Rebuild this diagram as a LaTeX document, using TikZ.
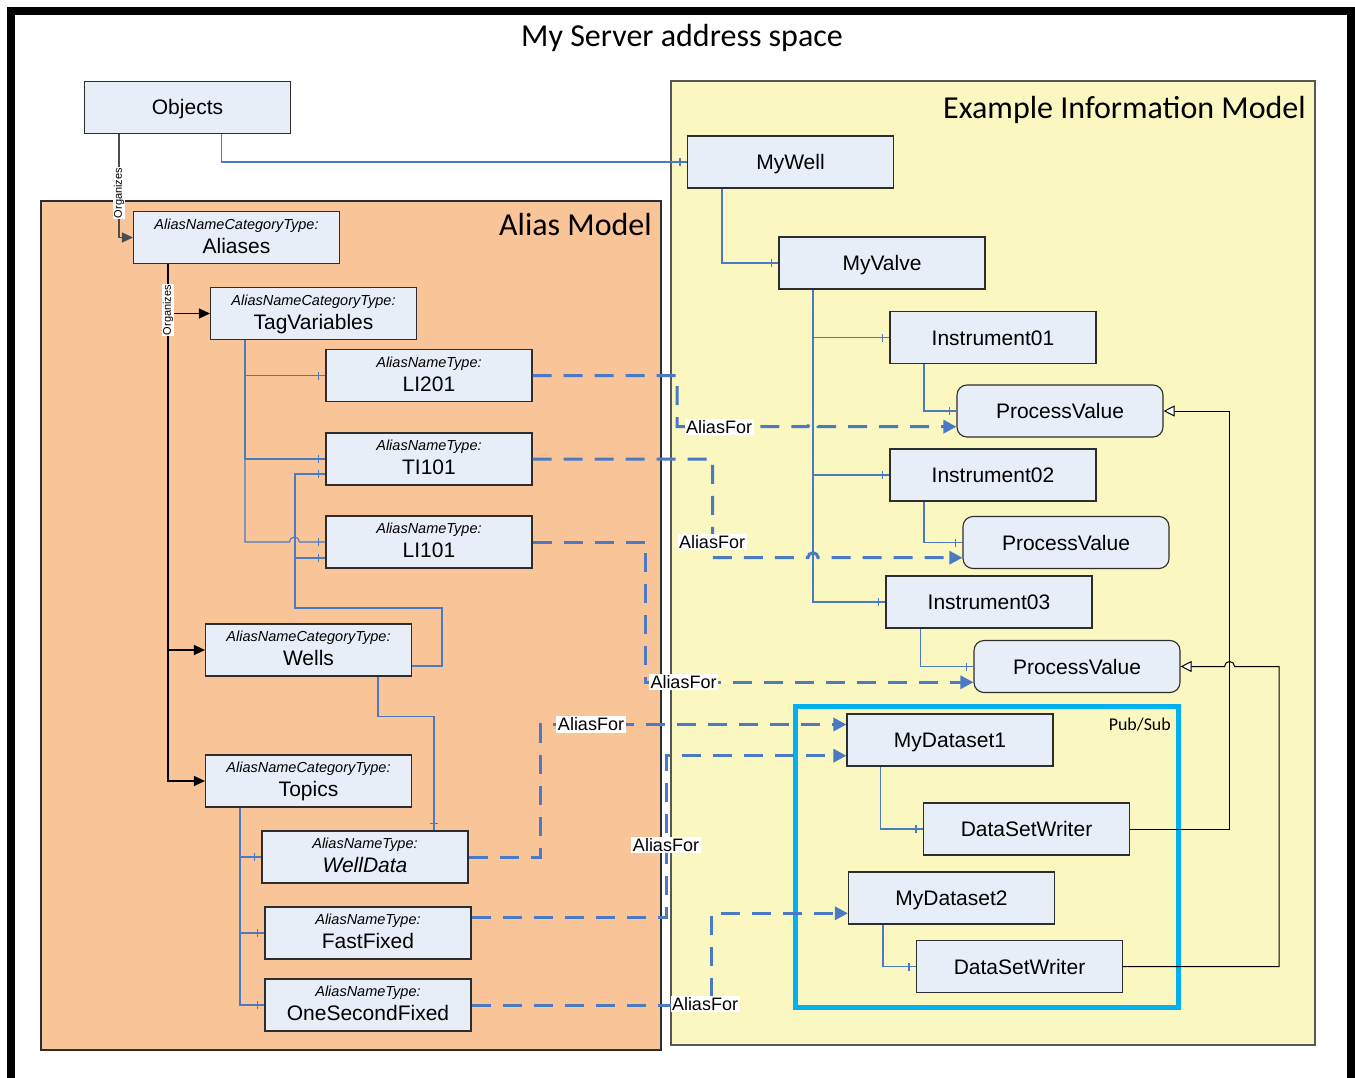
\documentclass[tikz,border=0pt]{standalone}
\usepackage{fontspec}
\setmainfont{Liberation Sans}
\newfontfamily\calib{Carlito}
\usetikzlibrary{arrows.meta,calc,decorations.markings}
\definecolor{boxfill}{RGB}{232,238,248}
\definecolor{boxline}{RGB}{45,45,45}
\definecolor{aliasfill}{RGB}{248,196,152}
\definecolor{modelfill}{RGB}{250,248,192}
\definecolor{lnblue}{RGB}{74,122,196}
\definecolor{pubsub}{RGB}{0,176,240}
\newcommand{\twobox}[5]{%
  \node[box] (#1) at (#2,#3) {};
  \node[typetxt] (#1t) at ($(#1.center)+(0,-8.2)$) {#4};
  \node[nametxt] (#1n) at ($(#1.center)+(0,15.7)$) {#5};}
\begin{document}
\begin{tikzpicture}[x=1pt,y=-1pt,
  box/.style={draw=boxline, fill=boxfill, line width=1.1pt, minimum width=206pt, minimum height=52pt, inner sep=0pt, text height=15pt, text depth=0pt, font=\fontsize{21}{25}\selectfont},
  pvbox/.style={box, rounded corners=10pt},
  typetxt/.style={anchor=base, inner sep=0pt, font=\fontsize{14.5}{17}\selectfont\itshape},
  nametxt/.style={anchor=base, inner sep=0pt, font=\fontsize{21}{25}\selectfont},
  conn/.style={draw=lnblue, line width=1.1pt},
  endtick/.style={postaction={decorate, decoration={markings, mark=at position -7pt with {\draw[lnblue, line width=1.1pt] (0pt,-4pt) -- (0pt,4pt);}}}},
  org/.style={draw=black, line width=1.2pt, -{Triangle[length=11pt,width=10pt]}},
  orglbl/.style={fill=white, inner sep=1pt, rotate=90, font=\fontsize{11}{12}\selectfont},
  alias/.style={draw=lnblue, line width=3pt, dash pattern=on 19pt off 12pt, -{Triangle[length=13pt,width=13pt]}},
  aliaslbl/.style={fill=white, inner sep=1.5pt, font=\fontsize{18}{20}\selectfont},
  inh/.style={draw=black, line width=1pt, -{Triangle[length=11pt,width=11pt,fill=white]}},
  ttl/.style={inner sep=0pt, font=\calib\fontsize{32}{36}\selectfont}
]
\useasboundingbox (0,0) rectangle (1355,1078);
\clip (0,0) rectangle (1355,1078);
\fill[white] (0,0) rectangle (1355,1078);
% frame
\draw[line width=8pt, line join=miter] (11,1100) -- (11,11) -- (1351,11) -- (1351,1100);
\node[ttl, anchor=base] (title) at (682,47) {My Server address space};
% containers
\draw[fill=aliasfill, draw=boxline, line width=1.2pt] (41,201) rectangle (661,1050);
\draw[fill=modelfill, draw=boxline!80, line width=1.2pt] (671,81) rectangle (1315,1045);
\node[ttl, anchor=base east] (aliastitle) at (652,236) {Alias Model};
\node[ttl, anchor=base east] (modeltitle) at (1306,118.3) {Example Information Model};
\draw[pubsub, line width=5pt] (795,706) rectangle (1178,1007);
\node[inner sep=0pt, anchor=base east, font=\calib\fontsize{17.9}{20}\selectfont] (pubsubl) at (1171,730) {Pub/Sub};
% boxes left
\node[box] (objects) at (187.5,107.5) {Objects};
\twobox{aliases}{236.5}{237.5}{AliasNameCategoryType:}{Aliases}
\twobox{tagvars}{313.5}{313.5}{AliasNameCategoryType:}{TagVariables}
\twobox{li201}{429}{375.5}{AliasNameType:}{LI201}
\twobox{ti101}{429}{459}{AliasNameType:}{TI101}
\twobox{li101}{429}{542}{AliasNameType:}{LI101}
\twobox{wells}{308.5}{650}{AliasNameCategoryType:}{Wells}
\twobox{topics}{308.5}{781}{AliasNameCategoryType:}{Topics}
\twobox{welldata}{365}{857}{AliasNameType:}{\itshape WellData}
\twobox{fastfixed}{368}{933}{AliasNameType:}{FastFixed}
\twobox{onesec}{368}{1005}{AliasNameType:}{OneSecondFixed}
% boxes right
\node[box] (mywell) at (790.5,162) {MyWell};
\node[box] (myvalve) at (882,263) {MyValve};
\node[box] (inst1) at (993,337.5) {Instrument01};
\node[pvbox] (pv1) at (1060,411) {ProcessValue};
\node[box] (inst2) at (993,475) {Instrument02};
\node[pvbox] (pv2) at (1066,542.5) {ProcessValue};
\node[box] (inst3) at (989,602) {Instrument03};
\node[pvbox] (pv3) at (1077,666.5) {ProcessValue};
\node[box] (ds1) at (950,740) {MyDataset1};
\node[box] (dsw1) at (1026.5,829) {DataSetWriter};
\node[box] (ds2) at (951.5,898) {MyDataset2};
\node[box] (dsw2) at (1019.5,966.5) {DataSetWriter};
% routing points
\coordinate (w1) at (442,608);
\coordinate (w2) at (295,608);
\coordinate (a1) at (677,426.7);
\coordinate (h1) at (808,426.7);
\coordinate (a2) at (712.7,557.7);
\coordinate (h2) at (808,557.7);
\coordinate (a3) at (645.5,682.3);
\coordinate (a4) at (540.5,724.5);
\coordinate (a5) at (666.5,755.7);
\coordinate (a6) at (711.5,913.3);
% organizes
\draw[org, draw=black!70] ([xshift=-68.5pt]objects.south) |- (aliases.west);
\draw[org] ([xshift=-68.5pt]aliases.south) |- (tagvars.west);
\draw[org] ([xshift=-68.5pt]aliases.south) |- (wells.west);
\draw[org] ([xshift=-68.5pt]aliases.south) |- (topics.west);
\node[orglbl] (org1) at (119,193) {Organizes};
\node[orglbl] (org2) at (168,310) {Organizes};
% thin blue
\draw[conn,endtick] ([xshift=34pt]objects.south) |- (mywell.west);
\draw[conn,endtick] ([xshift=-68.5pt]tagvars.south) |- (li201.west);
\draw[conn,endtick] ([xshift=-68.5pt]tagvars.south) |- (ti101.west);
\draw[conn,endtick] ([xshift=-68.5pt]tagvars.south) |- ([xshift=-36pt]li101.west) arc[start angle=180,end angle=0,radius=5pt] -- (li101.west);
\draw[conn,endtick] ([yshift=-16pt]wells.east) -| (w1) -- (w2) |- ([yshift=-15pt]ti101.west);
\draw[conn,endtick] (w2) |- ([yshift=-16pt]li101.west);
\draw[conn,endtick] ([xshift=69.5pt]wells.south) -- ++(0,40) -| ([xshift=69pt]welldata.north);
\draw[conn,endtick] ([xshift=-68.5pt]topics.south) |- (welldata.west);
\draw[conn,endtick] ([xshift=-68.5pt]topics.south) |- (fastfixed.west);
\draw[conn,endtick] ([xshift=-68.5pt]topics.south) |- (onesec.west);
\draw[conn,endtick] ([xshift=-68.5pt]mywell.south) |- (myvalve.west);
\draw[conn,endtick] ([xshift=-69pt]myvalve.south) |- (inst1.west);
\draw[conn,endtick] ([xshift=-69pt]myvalve.south) |- (inst2.west);
\draw[conn,endtick] ([xshift=-69pt]myvalve.south) |- (inst3.west);
\draw[conn,endtick] ([xshift=-69pt]inst1.south) |- (pv1.west);
\draw[conn,endtick] ([xshift=-69pt]inst2.south) |- (pv2.west);
\draw[conn,endtick] ([xshift=-68.5pt]inst3.south) |- (pv3.west);
\draw[conn,endtick] ([xshift=-69.3pt]ds1.south) |- (dsw1.west);
\draw[conn,endtick] ([xshift=-68.5pt]ds2.south) |- (dsw2.west);
% writer -> process value
\draw[inh] (dsw1.east) -- ++(99.5,0) |- (pv1.east);
\draw[inh] (dsw2.east) -- ++(156,0) |- ([xshift=54pt]pv3.east) arc[start angle=0,end angle=180,radius=5pt] -- (pv3.east);
% AliasFor
\draw[alias] (li201.east) -| (a1) -- (h1) arc[start angle=180,end angle=0,radius=5pt] -- ([yshift=-15.7pt]pv1.west);
\draw[alias] (ti101.east) -| (a2) -- (h2) arc[start angle=180,end angle=0,radius=5pt] -- ([yshift=-15.2pt]pv2.west);
\draw[alias] (li101.east) -| (a3) -- ([yshift=-15.8pt]pv3.west);
\draw[alias] (welldata.east) -| (a4) -- ([yshift=15.5pt]ds1.west);
\draw[alias] ([yshift=15.5pt]fastfixed.east) -| (a5) -- ([yshift=-15.7pt]ds1.west);
\draw[alias] (onesec.east) -| (a6) -- ([yshift=-15.3pt]ds2.west);
\node[aliaslbl] (af1) at (719,426.7) {AliasFor};
\node[aliaslbl] (af2) at (712,542.3) {AliasFor};
\node[aliaslbl] (af3) at (683.5,682.3) {AliasFor};
\node[aliaslbl] (af4) at (591,724.5) {AliasFor};
\node[aliaslbl] (af5) at (666,845) {AliasFor};
\node[aliaslbl] (af6) at (705,1004.3) {AliasFor};
\end{tikzpicture}
\end{document}
